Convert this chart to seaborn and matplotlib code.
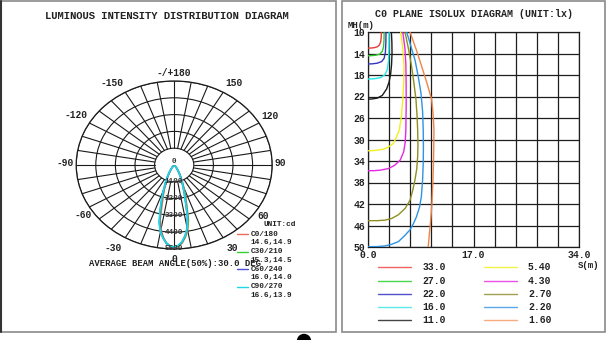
import numpy as np
import matplotlib
matplotlib.use('Agg')
import matplotlib.pyplot as plt
import seaborn as sns
from matplotlib.lines import Line2D
from matplotlib.patches import Rectangle, Ellipse

sns.set_theme(style='white')
plt.rcParams['font.family'] = ['Liberation Mono', 'DejaVu Sans Mono']
plt.rcParams['font.weight'] = 'bold'

# ---------------- polar (luminous intensity) data ----------------
gamma_deg = [-40, -37.5, -35, -32.5, -30, -27.5, -25, -22.5, -20, -17.5, -15, -12.5, -10, -7.5, -5, -2.5,
             0, 2.5, 5, 7.5, 10, 12.5, 15, 17.5, 20, 22.5, 25, 27.5, 30, 32.5, 35, 37.5, 40]
c0_180 = [81, 130, 211, 314, 444, 623, 867, 1138, 1518, 2005, 2602, 3631, 4282, 4748, 5111, 5339,
          5420, 5339, 5122, 4770, 4336, 3686, 2710, 2060, 1572, 1192, 894, 650, 461, 325, 217, 136, 81]
c30_210 = [86, 140, 227, 346, 486, 702, 945, 1242, 1674, 2160, 2862, 3780, 4374, 4806, 5130, 5324,
           5400, 5319, 5092, 4730, 4266, 3618, 2592, 1998, 1512, 1134, 864, 621, 443, 313, 211, 130, 81]
c60_240 = [91, 145, 237, 360, 511, 726, 995, 1291, 1722, 2287, 3013, 3847, 4412, 4815, 5127, 5310,
           5380, 5289, 5057, 4681, 4196, 3443, 2421, 1829, 1399, 1076, 807, 592, 420, 296, 199, 124, 75]
c90_270 = [91, 150, 241, 375, 536, 750, 1018, 1340, 1769, 2358, 3109, 3913, 4449, 4824, 5119, 5296,
           5360, 5269, 5038, 4663, 4181, 3430, 2412, 1822, 1394, 1072, 804, 590, 418, 295, 198, 123, 75]
plane_names = ['C0/180', 'C30/210', 'C60/240', 'C90/270']
plane_halfangles = ['14.6,14.9', '15.3,14.5', '16.0,14.0', '16.6,13.9']
plane_colors = ['#ee6a5a', '#33d033', '#5050d8', '#1ed8e4']
ring_values = [1100, 2200, 3300, 4400, 5500]
angle_labels = {0: '0', 30: '30', 60: '60', 90: '90', 120: '120', 150: '150', 180: '-/+180',
                -30: '-30', -60: '-60', -90: '-90', -120: '-120', -150: '-150'}

# ---------------- isolux data (S in m, MH in m) ----------------
iso_values = ['33.0', '27.0', '22.0', '16.0', '11.0', '5.40', '4.30', '2.70', '2.20', '1.60']
iso_colors = ['#e83a3a', '#2fc82f', '#3434c0', '#22e6e6', '#1a1a1a',
              '#f0f020', '#e628e6', '#8f8f22', '#2b94e6', '#f08448']
iso_legend_colors = ['#f26464', '#4ad84a', '#5050c8', '#5eeaea', '#444444',
                     '#f2f24a', '#e850e8', '#a0a050', '#5aa8ea', '#f8aa80']
s33 = [2.15, 2.13, 2.05, 1.85, 1.5, 1.0, 0.5, 0.0]
h33 = [10.0, 11.0, 11.8, 12.4, 12.75, 12.92, 12.98, 13.0]
s27 = [2.6, 2.58, 2.5, 2.3, 1.9, 1.2, 0.5, 0.0]
h27 = [10.0, 11.5, 12.8, 13.6, 14.1, 14.33, 14.4, 14.42]
s22 = [2.9, 2.88, 2.8, 2.6, 2.2, 1.5, 0.7, 0.0]
h22 = [10.0, 12.0, 13.8, 14.9, 15.5, 15.8, 15.92, 15.95]
s16 = [3.4, 3.38, 3.3, 3.1, 2.7, 2.0, 1.0, 0.0]
h16 = [10.0, 13.0, 15.5, 17.0, 18.0, 18.5, 18.7, 18.75]
s11 = [3.77, 3.85, 3.87, 3.8, 3.66, 3.4, 3.0, 2.3, 1.5, 0.7, 0.0]
h11 = [10.0, 12.0, 14.0, 16.0, 17.7, 19.3, 20.6, 21.8, 22.3, 22.45, 22.5]
s540 = [5.26, 5.6, 5.8, 5.75, 5.6, 5.4, 5.05, 4.6, 4.1, 3.3, 2.5, 1.5, 0.7, 0.0]
h540 = [10.0, 13.0, 16.4, 19.5, 22.6, 25.5, 28.2, 29.5, 30.7, 31.4, 31.8, 32.0, 32.07, 32.1]
s430 = [5.6, 5.95, 6.1, 6.15, 6.15, 6.1, 6.0, 5.75, 5.2, 4.3, 3.3, 2.0, 1.0, 0.0]
h430 = [10.0, 13.0, 16.0, 20.0, 24.0, 28.2, 30.5, 32.3, 33.8, 34.8, 35.4, 35.7, 35.8, 35.8]
s270 = [5.96, 6.5, 7.03, 7.4, 7.73, 7.9, 8.0, 8.05, 8.0, 7.85, 7.57, 7.2, 6.77, 6.0, 4.9, 3.8, 2.74, 1.5, 0.0]
h270 = [10.0, 13.0, 16.4, 19.5, 22.6, 25.5, 28.2, 31.0, 33.2, 35.5, 37.5, 39.5, 41.3, 42.8, 44.0, 44.7, 45.0, 45.1, 45.1]
s220 = [6.23, 6.9, 7.57, 8.1, 8.54, 8.8, 8.9, 8.93, 8.9, 8.8, 8.6, 8.3, 7.8, 7.3, 6.77, 5.9, 4.9, 3.8, 2.74, 1.5, 0.0]
h220 = [10.0, 12.6, 15.2, 18.3, 21.4, 24.8, 28.2, 31.3, 34.4, 37.5, 40.6, 42.6, 44.4, 45.7, 46.8, 47.9, 49.0, 49.5, 49.8, 49.92, 49.95]
s160 = [6.77, 7.75, 8.65, 9.5, 10.26, 10.5, 10.63, 10.6, 10.55, 10.45, 10.3, 10.1, 9.7]
h160 = [10.0, 13.2, 16.4, 19.5, 22.6, 25.4, 28.2, 31.0, 34.4, 38.0, 42.0, 45.0, 50.0]
iso_s = [s33, s27, s22, s16, s11, s540, s430, s270, s220, s160]
iso_h = [h33, h27, h22, h16, h11, h540, h430, h270, h220, h160]
s_ticks = [0.0, 3.4, 6.8, 10.2, 13.6, 17.0, 20.4, 23.8, 27.2, 30.6, 34.0]
s_ticklabels = ['0.0', '', '', '', '', '17.0', '', '', '', '', '34.0']
mh_ticks = [10, 14, 18, 22, 26, 30, 34, 38, 42, 46, 50]

W, H = 606, 340
fig = plt.figure(figsize=(W / 100, H / 100), dpi=100)
fig.patch.set_facecolor('white')

def fx(px):
    return px / W

def fy(py):
    return 1 - py / H

# panel borders
fig.add_artist(Rectangle((fx(0.8), fy(332)), fx(335), (332 - 0.5) / H, transform=fig.transFigure,
                         fill=False, edgecolor='#8a8a8a', lw=1.2))
fig.add_artist(Line2D([fx(0.8), fx(0.8)], [fy(0.5), fy(332)], transform=fig.transFigure, color='#333333', lw=1.5))
fig.add_artist(Rectangle((fx(342), fy(332)), fx(605) - fx(342), (332 - 1) / H, transform=fig.transFigure,
                         fill=False, edgecolor='#8a8a8a', lw=1.2))
fig.add_artist(Ellipse((fx(304), fy(341)), 13 / W, 13 / H, transform=fig.transFigure, color='black'))

# ---------------- polar axes ----------------
cx, cy, rx, ry = 174.2, 165.0, 98.0, 84.0
axp = fig.add_axes([fx(cx - rx), fy(cy + ry), 2 * rx / W, 2 * ry / H], projection='polar')
axp.set_aspect('auto')
axp.set_theta_zero_location('S')
axp.set_theta_direction(1)
axp.set_ylim(0, 5500)
axp.set_yticks(ring_values)
axp.set_yticklabels([])
axp.set_xticks([])
axp.yaxis.grid(True, color='#1a1a1a', lw=0.8)
axp.xaxis.grid(False)
axp.spines['polar'].set_color('#1a1a1a')
axp.spines['polar'].set_linewidth(0.9)
axp.set_facecolor('white')
for a in range(0, 360, 10):
    axp.plot([np.deg2rad(a)] * 2, [ring_values[0], ring_values[-1]], color='#1a1a1a', lw=0.8, zorder=1)

theta = np.deg2rad(gamma_deg)
for vals, col in zip([c0_180, c30_210, c60_240, c90_270], plane_colors):
    sns.lineplot(x=theta, y=vals, ax=axp, sort=False, estimator=None, color=col, lw=1.2, zorder=3)
axp.set_xlabel('')
axp.set_ylabel('')
axp.set_ylim(0, 5500)

for rv in ring_values:
    axp.text(0, rv, str(rv), ha='center', va='center', fontsize=5.5, color='#333333', zorder=4)
axp.text(0, 0, '0', ha='center', va='bottom', fontsize=5.5, color='#333333', zorder=4)

label_place = {0: ('center', 'top', 0, -4.5), 30: ('left', 'top', 3, -5), 60: ('left', 'top', -2, -3.5),
               90: ('left', 'center', 2.5, 2), 120: ('left', 'bottom', 2, 2.5), 150: ('left', 'bottom', 2, 4),
               180: ('center', 'bottom', 0, 3)}
for ang, txt in angle_labels.items():
    ha, va, dx, dy = label_place[abs(ang)]
    if ang < 0:
        ha = {'left': 'right'}.get(ha, ha)
        dx = -dx
    axp.annotate(txt, xy=(np.deg2rad(ang), 5500), xytext=(dx * 0.72, dy * 0.72), textcoords='offset points',
                 ha=ha, va=va, fontsize=6.9, color='#222222', annotation_clip=False)

fig.text(fx(167), fy(16), 'LUMINOUS INTENSITY DISTRIBUTION DIAGRAM', ha='center', va='center',
         fontsize=7.6, color='#222222')
fig.text(fx(89), fy(264), 'AVERAGE BEAM ANGLE(50%):30.0 DEG', ha='left', va='center',
         fontsize=6.4, color='#222222')
fig.text(fx(264), fy(225), 'UNIT:cd', ha='left', va='center', fontsize=5.6, color='#222222')
for i, (nm, ha_txt, col) in enumerate(zip(plane_names, plane_halfangles, plane_colors)):
    yy = 234.3 + i * 17.4
    fig.add_artist(Line2D([fx(237), fx(248)], [fy(yy), fy(yy)], transform=fig.transFigure, color=col, lw=1.0))
    fig.text(fx(250.5), fy(yy), nm, ha='left', va='center', fontsize=5.6, color='#222222')
    fig.text(fx(250.5), fy(yy + 8.6), ha_txt, ha='left', va='center', fontsize=5.6, color='#222222')

# ---------------- isolux axes ----------------
axl, axr, axt, axb = 368, 579, 32, 247
axi = fig.add_axes([fx(axl), fy(axb), (axr - axl) / W, (axb - axt) / H])
for s, h, col in zip(iso_s, iso_h, iso_colors):
    sns.lineplot(x=s, y=h, ax=axi, sort=False, estimator=None, color=col, lw=1.0, zorder=3)
axi.set_xlim(0, 34)
axi.set_ylim(50, 10)
axi.set_xticks(s_ticks)
axi.set_xticklabels(s_ticklabels)
axi.set_yticks(mh_ticks)
axi.set_yticklabels([str(v) for v in mh_ticks])
axi.grid(True, color='#1e1e1e', lw=0.9)
axi.set_axisbelow(True)
for sp in axi.spines.values():
    sp.set_color('#1e1e1e')
    sp.set_linewidth(0.9)
axi.tick_params(axis='both', length=0, labelsize=7, colors='#222222')
axi.tick_params(axis='y', pad=2.2)
axi.tick_params(axis='x', pad=2.5)
axi.set_xlabel('')
axi.set_ylabel('')

fig.text(fx(474), fy(14), 'C0 PLANE ISOLUX DIAGRAM (UNIT:lx)', ha='center', va='center',
         fontsize=7.2, color='#222222')
fig.text(fx(348), fy(25), 'MH(m)', ha='left', va='center', fontsize=6.5, color='#222222')
fig.text(fx(578), fy(266), 'S(m)', ha='left', va='center', fontsize=6.5, color='#222222')
for i, (val, col) in enumerate(zip(iso_values, iso_legend_colors)):
    c, r = divmod(i, 5)
    yy = 267.3 + r * 13.2
    x0 = 378 + c * 105.5
    fig.add_artist(Line2D([fx(x0), fx(x0 + 33)], [fy(yy), fy(yy)], transform=fig.transFigure, color=col, lw=1.0))
    fig.text(fx(x0 + 44.5), fy(yy), val, ha='left', va='center', fontsize=7, color='#222222')

fig.savefig('out.png', dpi=100, facecolor='white')
